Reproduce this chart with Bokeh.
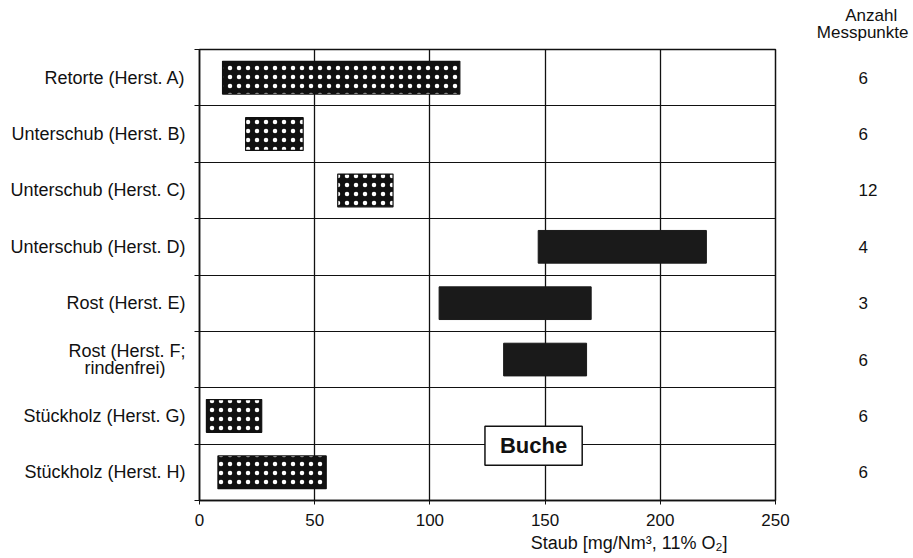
from bokeh.plotting import figure
from bokeh.models import Range1d, FixedTicker, Label, LinearAxis, Title
from bokeh.embed import file_html
from bokeh.resources import INLINE

# Dust emission ranges per furnace type, beech wood fuel
NBSP = "\u00a0"
categories = [
    "Retorte (Herst. A)",
    "Unterschub (Herst. B)",
    "Unterschub (Herst. C)",
    "Unterschub (Herst. D)",
    "Rost (Herst. E)",
    "Rost (Herst. F;\nrindenfrei)" + NBSP * 4,
    "Stückholz (Herst. G)",
    "Stückholz (Herst. H)",
]
staub_min = [10, 20, 60, 147, 104, 132, 3, 8]
staub_max = [113, 45, 84, 220, 170, 168, 27, 55]
messpunkte = [6, 6, 12, 4, 3, 6, 6, 6]
# patterned = first measurement series, solid = second
patterned = [True, True, True, False, False, False, True, True]
x_ticks = [0, 50, 100, 150, 200, 250]

FONT = "Liberation Sans"
INK = "#111111"
n = len(categories)
centers = [n - i - 0.5 for i in range(n)]
bounds = list(range(n + 1))

p = figure(width=913, height=558, output_backend="svg", toolbar_location=None,
           x_range=Range1d(0, 250), y_range=Range1d(0, n),
           min_border_left=199, min_border_right=138,
           min_border_top=48, min_border_bottom=58)
p.background_fill_color = "white"
p.border_fill_color = "white"
p.outline_line_color = INK
p.outline_line_width = 1.5

# grid: vertical at x ticks, horizontal at row boundaries
p.xgrid.ticker = FixedTicker(ticks=x_ticks)
p.xgrid.grid_line_color = INK
p.xgrid.grid_line_width = 1.3
p.ygrid.ticker = FixedTicker(ticks=bounds)
p.ygrid.grid_line_color = INK
p.ygrid.grid_line_width = 1.1

hatched = dict(
    y=[c for c, h in zip(centers, patterned) if h],
    left=[a for a, h in zip(staub_min, patterned) if h],
    right=[b for b, h in zip(staub_max, patterned) if h],
)
solid = dict(
    y=[c for c, h in zip(centers, patterned) if not h],
    left=[a for a, h in zip(staub_min, patterned) if not h],
    right=[b for b, h in zip(staub_max, patterned) if not h],
)

# raster bars: white dots on black
p.hbar(y="y", left="left", right="right", height=0.58, source=hatched,
       fill_color=INK, line_color=INK, line_width=1.2,
       hatch_pattern="dot", hatch_color="white", hatch_scale=9,
       hatch_weight=4)
p.hbar(y="y", left="left", right="right", height=0.58, source=solid,
       fill_color="#1a1a1a", line_color="#1a1a1a", line_width=1)

# left axis: category names centred in rows, tick marks at row boundaries
yax = p.yaxis[0]
yax.ticker = FixedTicker(ticks=centers, minor_ticks=bounds)
yax.major_label_overrides = {c: lab for c, lab in zip(centers, categories)}
yax.major_tick_in = 0
yax.major_tick_out = 0
yax.minor_tick_in = 0
yax.minor_tick_out = 5
yax.minor_tick_line_color = INK
yax.axis_line_color = INK
yax.axis_line_width = 1.5
yax.major_label_standoff = 9
yax.major_label_text_font = FONT
yax.major_label_text_font_size = "18px"
yax.major_label_text_color = INK
yax.major_label_text_line_height = 0.88

xax = p.xaxis[0]
xax.ticker = FixedTicker(ticks=x_ticks)
xax.major_tick_in = 0
xax.major_tick_out = 4
xax.major_tick_line_color = INK
xax.axis_line_color = INK
xax.axis_line_width = 1.5
xax.major_label_standoff = 9
xax.major_label_text_font = FONT
xax.major_label_text_font_size = "17px"
xax.major_label_text_color = INK

# right axis: number of measurement points per row
rax = LinearAxis(ticker=FixedTicker(ticks=centers),
                 major_label_overrides={c: str(m) for c, m in zip(centers, messpunkte)})
rax.axis_line_color = None
rax.major_tick_line_color = None
rax.minor_tick_line_color = None
rax.major_tick_out = 0
rax.major_tick_in = 0
rax.major_label_standoff = 83
rax.major_label_text_font = FONT
rax.major_label_text_font_size = "17px"
rax.major_label_text_color = INK
p.add_layout(rax, "right")

# column heading above the counts
p.add_layout(Title(text=NBSP * 6 + "Anzahl\nMesspunkte", align="right",
                   offset=-133, vertical_align="top", text_font=FONT,
                   text_font_size="17px", text_font_style="normal",
                   text_color=INK, standoff=11, text_line_height=0.88),
             "above")

# x axis title, right-aligned under the axis end
p.add_layout(Title(text="Staub [mg/Nm³, 11% O₂]", align="right", offset=48,
                   vertical_align="bottom", text_font=FONT,
                   text_font_size="18px", text_font_style="normal",
                   text_color=INK, standoff=5),
             "below")

# fuel legend box
p.add_layout(Label(x=145, y=0.97, text="Buche", text_align="center",
                   text_baseline="middle", text_font=FONT,
                   text_font_size="22px", text_font_style="bold",
                   text_color=INK, background_fill_color="white",
                   border_line_color=INK, border_line_width=1.5,
                   padding=(15, 7)))

open("out.html", "w").write(file_html(p, INLINE))
